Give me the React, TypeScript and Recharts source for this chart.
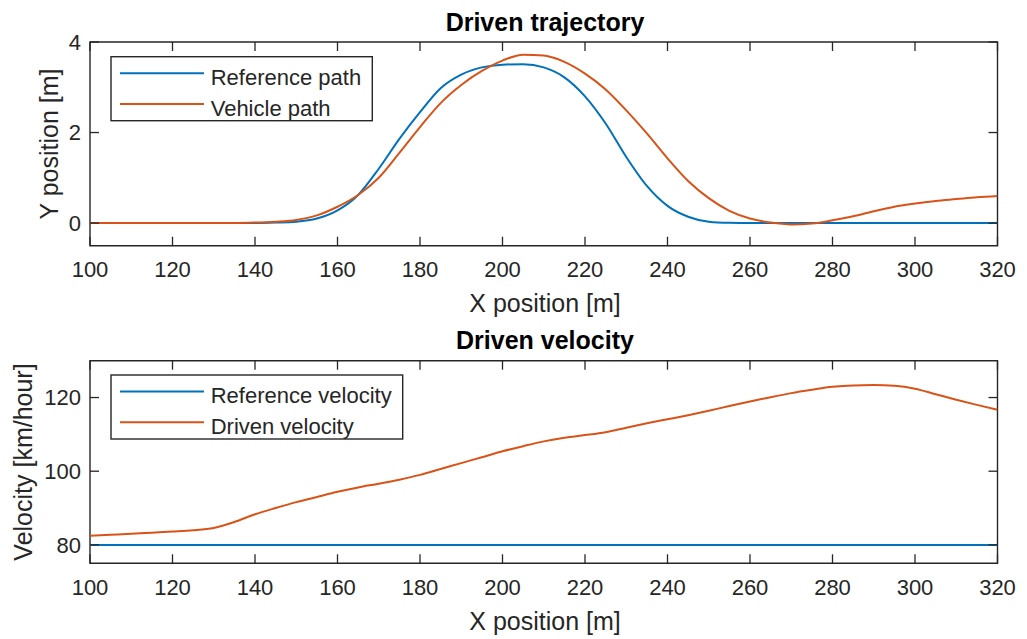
import React from 'react';
import { LineChart, Line, XAxis, YAxis, ReferenceArea } from 'recharts';

// ---------- data ----------
const xPosition = [
  100, 105, 110, 115, 120, 125, 130, 135, 140, 145, 150, 155, 160, 165, 170, 175, 180, 185, 190, 195, 200, 205,
  210, 215, 220, 225, 230, 235, 240, 245, 250, 255, 260, 265, 270, 275, 280, 285, 290, 295, 300, 305, 310, 315, 320,
];

const referencePathY = [
  0, 0, 0, 0, 0, 0, 0, 0, 0, 0.01, 0.03, 0.1, 0.28, 0.62, 1.2, 1.86, 2.45, 2.98, 3.28, 3.44, 3.5, 3.51, 3.44,
  3.22, 2.8, 2.2, 1.46, 0.82, 0.38, 0.14, 0.03, 0.005, 0, 0, 0, 0, 0, 0, 0, 0, 0, 0, 0, 0, 0,
];

const vehiclePathY = [
  0, 0, 0, 0, 0, 0, 0, 0, 0.01, 0.03, 0.07, 0.17, 0.36, 0.62, 1.0, 1.55, 2.12, 2.65, 3.05, 3.36, 3.59, 3.72, 3.7,
  3.56, 3.3, 2.95, 2.49, 1.98, 1.43, 0.93, 0.55, 0.27, 0.1, 0.01, -0.03, -0.01, 0.06, 0.15, 0.26, 0.36, 0.43, 0.49,
  0.53, 0.57, 0.6,
];

const referenceVelocity = [
  80, 80, 80, 80, 80, 80, 80, 80, 80, 80, 80, 80, 80, 80, 80, 80, 80, 80, 80, 80, 80, 80, 80, 80, 80, 80, 80, 80,
  80, 80, 80, 80, 80, 80, 80, 80, 80, 80, 80, 80, 80, 80, 80, 80, 80,
];

const drivenVelocity = [
  82.5, 82.75, 83.0, 83.3, 83.6, 83.95, 84.6, 86.2, 88.3, 90.0, 91.6, 93.0, 94.4, 95.6, 96.6, 97.7, 99.0, 100.6,
  102.2, 103.8, 105.4, 106.8, 108.1, 109.1, 109.8, 110.6, 111.8, 113.0, 114.1, 115.2, 116.4, 117.7, 118.9, 120.1,
  121.2, 122.1, 122.9, 123.3, 123.4, 123.2, 122.4, 120.9, 119.4, 118.0, 116.7,
];

const xTicks = [100, 120, 140, 160, 180, 200, 220, 240, 260, 280, 300, 320];
const xDomain = [100, 320];
const pathTicks = [0, 2, 4];
const pathDomain = [-0.5, 4];
const velocityTicks = [80, 100, 120];
const velocityDomain = [75, 130];

const pathSeries = [
  { key: 'ref', name: 'Reference path', color: '#0072BD' },
  { key: 'veh', name: 'Vehicle path', color: '#D95319' },
];
const velocitySeries = [
  { key: 'ref', name: 'Reference velocity', color: '#0072BD' },
  { key: 'drv', name: 'Driven velocity', color: '#D95319' },
];

const pathData = xPosition.map((x, i) => ({ x, ref: referencePathY[i], veh: vehiclePathY[i] }));
const velocityData = xPosition.map((x, i) => ({ x, ref: referenceVelocity[i], drv: drivenVelocity[i] }));

// ---------- style ----------
const AX = '#262626';
const FONT = '"Liberation Sans", Arial, Helvetica, sans-serif';
const TICK_FS = 22;
const LABEL_FS = 25;
const TICK_LEN = 9;
const X_TICK_MARGIN = 16;
const Y_TICK_MARGIN = 9;
const PLOT_LEFT = 90;
const PLOT_RIGHT_MARGIN = 29.5;
const PLOT_W = 1027 - PLOT_LEFT - PLOT_RIGHT_MARGIN;

const makeXTick = (plotH: number) => (props: any) => {
  const { x, y, payload } = props;
  const axisY = y - X_TICK_MARGIN;
  return (
    <g>
      <line x1={x} x2={x} y1={axisY} y2={axisY - TICK_LEN} stroke={AX} strokeWidth={1.3} />
      <line x1={x} x2={x} y1={axisY - plotH} y2={axisY - plotH + TICK_LEN} stroke={AX} strokeWidth={1.3} />
      <text x={x} y={y} dy="0.71em" textAnchor="middle" fontSize={TICK_FS} fill={AX} fontFamily={FONT}>
        {payload.value}
      </text>
    </g>
  );
};

const YTick = (props: any) => {
  const { x, y, payload } = props;
  const axisX = x + Y_TICK_MARGIN;
  return (
    <g>
      <line x1={axisX} x2={axisX + TICK_LEN} y1={y} y2={y} stroke={AX} strokeWidth={1.3} />
      <line x1={axisX + PLOT_W} x2={axisX + PLOT_W - TICK_LEN} y1={y} y2={y} stroke={AX} strokeWidth={1.3} />
      <text x={x} y={y} dy="0.355em" textAnchor="end" fontSize={TICK_FS} fill={AX} fontFamily={FONT}>
        {payload.value}
      </text>
    </g>
  );
};

type Series = { key: string; name: string; color: string };

function Panel({
  data,
  series,
  yDomain,
  yTicks,
  height,
  top,
  xAxisHeight,
}: {
  data: any[];
  series: Series[];
  yDomain: number[];
  yTicks: number[];
  height: number;
  top: number;
  xAxisHeight: number;
}) {
  const plotH = height - top - xAxisHeight;
  return (
    <LineChart
      width={1027}
      height={height}
      data={data}
      margin={{ top, right: PLOT_RIGHT_MARGIN, bottom: 0, left: 0 }}
    >
      <XAxis
        dataKey="x"
        type="number"
        domain={xDomain}
        ticks={xTicks}
        interval={0}
        allowDataOverflow
        height={xAxisHeight}
        axisLine={false}
        tickLine={false}
        tickSize={0}
        tickMargin={X_TICK_MARGIN}
        tick={makeXTick(plotH)}
      />
      <YAxis
        type="number"
        domain={yDomain}
        ticks={yTicks}
        interval={0}
        allowDataOverflow
        width={PLOT_LEFT}
        axisLine={false}
        tickLine={false}
        tickSize={0}
        tickMargin={Y_TICK_MARGIN}
        tick={YTick}
      />
      {series.map((s) => (
        <Line
          key={s.key}
          dataKey={s.key}
          name={s.name}
          type="monotone"
          stroke={s.color}
          strokeWidth={2}
          dot={false}
          activeDot={false}
          isAnimationActive={false}
        />
      ))}
      <ReferenceArea
        x1={xDomain[0]}
        x2={xDomain[1]}
        y1={yDomain[0]}
        y2={yDomain[1]}
        fill="none"
        fillOpacity={0}
        stroke={AX}
        strokeWidth={1.4}
        ifOverflow="visible"
      />
    </LineChart>
  );
}

function LegendBox({ x, y, width, series }: { x: number; y: number; width: number; series: Series[] }) {
  return (
    <g>
      <rect x={x} y={y} width={width} height={64} fill="#fff" stroke={AX} strokeWidth={1.4} />
      {series.map((s, i) => (
        <g key={s.key}>
          <line x1={x + 9} x2={x + 93} y1={y + 16.6 + i * 30.7} y2={y + 16.6 + i * 30.7} stroke={s.color} strokeWidth={2} />
          <text x={x + 99.7} y={y + 28.3 + i * 30.7} fontSize={TICK_FS} fill={AX} fontFamily={FONT}>
            {s.name}
          </text>
        </g>
      ))}
    </g>
  );
}

export default function App() {
  return (
    <div style={{ position: 'absolute', left: 0, top: 0, width: 1027, height: 639, background: '#fff' }}>
      <div style={{ position: 'absolute', left: 0, top: 0 }}>
        <Panel data={pathData} series={pathSeries} yDomain={pathDomain} yTicks={pathTicks} height={320} top={42} xAxisHeight={74.3} />
      </div>
      <div style={{ position: 'absolute', left: 0, top: 320 }}>
        <Panel
          data={velocityData}
          series={velocitySeries}
          yDomain={velocityDomain}
          yTicks={velocityTicks}
          height={319}
          top={40.7}
          xAxisHeight={75.7}
        />
      </div>
      <svg
        width={1027}
        height={639}
        style={{ position: 'absolute', left: 0, top: 0, pointerEvents: 'none' }}
        fontFamily={FONT}
      >
        <text x={545} y={31} textAnchor="middle" fontSize={LABEL_FS} fontWeight="bold" fill="#000">
          Driven trajectory
        </text>
        <text x={545} y={311.7} textAnchor="middle" fontSize={LABEL_FS} fill={AX}>
          X position [m]
        </text>
        <text x={58} y={144} textAnchor="middle" fontSize={LABEL_FS} fill={AX} transform="rotate(-90 58 144)">
          Y position [m]
        </text>
        <LegendBox x={111} y={56.7} width={261.3} series={pathSeries} />

        <text x={545} y={349.3} textAnchor="middle" fontSize={LABEL_FS} fontWeight="bold" fill="#000">
          Driven velocity
        </text>
        <text x={545} y={630} textAnchor="middle" fontSize={LABEL_FS} fill={AX}>
          X position [m]
        </text>
        <text x={32} y={462} textAnchor="middle" fontSize={LABEL_FS} fill={AX} transform="rotate(-90 32 462)">
          Velocity [km/hour]
        </text>
        <LegendBox x={111} y={375} width={291.7} series={velocitySeries} />
      </svg>
    </div>
  );
}
